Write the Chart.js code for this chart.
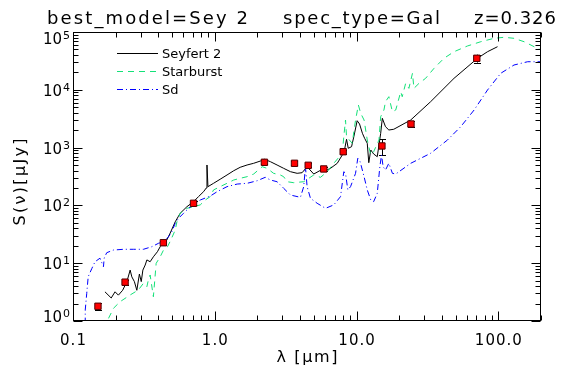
<!DOCTYPE html>
<html><head><meta charset="utf-8">
<script src="https://cdn.jsdelivr.net/npm/chart.js@4.4.1/dist/chart.umd.min.js"></script>
<style>html,body{margin:0;padding:0;background:#fff;overflow:hidden}canvas{display:block}</style>
</head><body>
<canvas id="c" width="569" height="365"></canvas>
<script>
// ---------- data ----------
const titleParts = ['best_model=Sey 2', 'spec_type=Gal', 'z=0.326'];
const seriesLabels = ['Seyfert 2', 'Starburst', 'Sd'];
const xTickValues = [0.1, 1, 10, 100];
const xTickLabels = ['0.1', '1.0', '10.0', '100.0'];
const yTickValues = [1, 10, 100, 1000, 10000, 100000];
const yTickExps = ['0', '1', '2', '3', '4', '5'];
const xTitle = 'λ [μm]';
const yTitle = 'S(ν)[μJy]';

// Seyfert 2 model (black)
const sey2Wave = [0.168,0.186,0.198,0.209,0.224,0.240,0.253,0.260,0.271,0.282,0.294,0.303,0.311,0.323,0.332,0.350,0.369,0.394,0.412,0.435,0.459,0.485,0.526,0.570,0.636,0.708,0.768,0.834,0.871,0.881,0.895,0.98,1.09,1.22,1.36,1.51,1.69,1.88,2.10,2.24,2.47,2.75,3.06,3.42,3.81,4.13,4.48,4.99,5.57,6.04,6.55,7.31,7.93,8.22,8.50,8.74,9.22,9.57,10.1,10.5,11.0,11.4,11.9,12.2,12.6,13.2,14.0,14.8,15.2,16.0,16.9,18.3,24.1,33.3,48.7,71.3,83.9,98.7];
const sey2Flux = [3.2,2.5,3.2,2.8,3.4,4.8,7.6,5.8,4.8,3.4,6.5,4.8,7.6,9.3,11.4,10.6,12.9,15.8,19.3,22.6,25.2,33.3,52,73,95,116,142,173,200,500,211,241,283,336,398,456,500,535,586,628,570,500,438,383,359,368,467,349,405,398,438,535,745,909,1393,973,1037,1544,2918,2560,1767,1448,1187,548,909,775,696,1767,3213,2300,2016,2075,3002,6223,15800,35100,45600,55700];

// Starburst model (green dashed)
const sbWave = [0.178,0.193,0.215,0.253,0.289,0.314,0.332,0.340,0.350,0.369,0.386,0.412,0.435,0.464,0.490,0.526,0.541,0.570,0.636,0.708,0.790,0.857,0.929,0.98,1.09,1.22,1.36,1.51,1.69,1.88,2.16,2.34,2.60,2.90,3.06,3.24,3.60,4.24,4.99,5.57,6.21,6.91,7.93,8.13,8.36,8.50,9.32,9.84,10.3,10.7,11.3,11.9,12.6,13.2,14.4,14.8,15.6,16.0,16.9,17.9,18.9,20.5,21.0,22.2,23.4,24.8,25.4,27.6,30.7,35.2,41.4,48.7,60.6,75.2,93.4,110,129,152,179,200];
const sbFlux = [1.11,1.66,2.16,2.82,3.44,4.49,3.92,5.12,6.25,2.63,9.95,12.9,16.9,19.3,25.2,37.5,52.2,73,89,95,102,124,142,185,211,241,275,294,314,349,467,438,359,336,314,257,247,257,336,306,383,535,797,1544,3002,1544,1187,3002,5458,3920,3002,1354,745,849,1354,3425,4473,6223,7600,4180,4473,9270,7600,12950,10600,19300,10600,12950,15800,23550,35100,45600,57300,67900,77800,81000,77800,67900,55700,48800];

// Sd model (blue dash-dot)
const sdWave = [0.122,0.122,0.125,0.128,0.136,0.143,0.155,0.164,0.166,0.173,0.193,0.227,0.267,0.314,0.360,0.401,0.435,0.472,0.498,0.526,0.555,0.602,0.653,0.708,0.790,0.929,1.04,1.22,1.44,1.69,1.99,2.27,2.47,2.75,3.06,3.42,4.02,4.24,4.36,4.48,4.73,5.27,6.04,6.91,7.71,8.13,8.36,8.68,9.07,9.84,10.2,10.6,11.3,11.9,12.6,13.2,14.0,14.6,15.0,15.4,16.0,16.9,17.9,18.9,24.1,33.3,43.8,54.3,67.5,83.9,104,129,161,200];
const sdFlux = [0.9,1.55,3.01,5.84,8.16,10.6,12.2,8.7,12.3,15.2,16.9,17.4,17.4,17.4,19.3,22.1,23.5,28.7,35.1,49,59.8,73,89,102,124,145,173,211,234,241,267,306,275,257,198,151,138,211,467,211,133,109,89,102,142,383,359,185,211,359,653,570,314,185,124,116,162,467,745,467,409,535,359,349,535,797,1354,2300,4473,9920,19300,26850,30600,30600];

// Observed photometry (red points with error bars)
const obsWave = [0.150, 0.233, 0.434, 0.708, 2.24, 3.65, 4.56, 5.87, 8.05, 15.1, 24.2, 70.5];
const obsFlux = [1.8, 4.7, 22.6, 108.7, 557, 535, 494, 427, 849, 1067, 2560, 35100];
const obsErr  = [0.22, 0.45, 2.0, 9, 45, 40, 40, 35, 70, 330, 330, 5500];

// ---------- styling ----------
const FONT = "'DejaVu Sans', 'Liberation Sans', sans-serif";
const COL_BLACK = '#000000';
const COL_GREEN = 'rgb(20,225,120)';
const COL_BLUE = 'rgb(0,0,255)';
const DASH_GREEN = [6, 5];
const DASH_BLUE = [6, 3, 1, 3];

const toXY = (xs, ys) => xs.map((x, i) => ({x: x, y: ys[i]}));

function fitText(ctx, text, x, y, targetW, align) {
  ctx.letterSpacing = '0px';
  const w0 = ctx.measureText(text).width;
  const n = Math.max(1, text.length - 1);
  const ls = (targetW - w0) / n;
  ctx.letterSpacing = ls.toFixed(2) + 'px';
  const w = ctx.measureText(text).width - ls;
  let sx = x;
  if (align === 'center') sx = x - w / 2;
  else if (align === 'right') sx = x - w;
  ctx.textAlign = 'left';
  ctx.fillText(text, sx, y);
  ctx.letterSpacing = '0px';
}

const idlPlugin = {
  id: 'idl',
  beforeDraw(chart) {
    const ctx = chart.ctx;
    ctx.save();
    ctx.fillStyle = '#fff';
    ctx.fillRect(0, 0, chart.width, chart.height);
    ctx.restore();
  },
  beforeDatasetsDraw(chart) {
    const ctx = chart.ctx, xs = chart.scales.x, ys = chart.scales.y;
    ctx.save();
    ctx.strokeStyle = '#000';
    ctx.lineWidth = 1;
    obsWave.forEach((w, i) => {
      const px = Math.round(xs.getPixelForValue(w)) + 0.5;
      const yTop = ys.getPixelForValue(obsFlux[i] + obsErr[i]);
      const yBot = ys.getPixelForValue(Math.max(obsFlux[i] - obsErr[i], 1e-3));
      ctx.beginPath();
      ctx.moveTo(px, yTop); ctx.lineTo(px, yBot);
      ctx.moveTo(px - 3.5, Math.round(yTop) + 0.5); ctx.lineTo(px + 3.5, Math.round(yTop) + 0.5);
      ctx.moveTo(px - 3.5, Math.round(yBot) + 0.5); ctx.lineTo(px + 3.5, Math.round(yBot) + 0.5);
      ctx.stroke();
    });
    ctx.restore();
  },
  afterDraw(chart) {
    const ctx = chart.ctx, a = chart.chartArea, xs = chart.scales.x, ys = chart.scales.y;
    ctx.save();
    ctx.strokeStyle = '#000';
    ctx.lineWidth = 1;
    const L = Math.round(a.left) + 0.5, R = Math.round(a.right) - 0.5,
          T = Math.round(a.top) + 0.5, B = Math.round(a.bottom) - 0.5;
    ctx.strokeRect(L, T, R - L, B - T);
    const xMinor = [], yMinor = [];
    xTickValues.forEach(d => { for (let m = 2; m <= 9; m++) { const v = m * d; if (v <= xs.max) xMinor.push(v); } });
    yTickValues.forEach(d => { for (let m = 2; m <= 9; m++) { const v = m * d; if (v < ys.max) yMinor.push(v); } });
    ctx.beginPath();
    const tick = (v, len, axis) => {
      if (axis === 'x') {
        const p = Math.round(xs.getPixelForValue(v)) + 0.5;
        ctx.moveTo(p, B); ctx.lineTo(p, B - len);
        ctx.moveTo(p, T); ctx.lineTo(p, T + len);
      } else {
        const p = Math.round(ys.getPixelForValue(v)) + 0.5;
        ctx.moveTo(L, p); ctx.lineTo(L + len, p);
        ctx.moveTo(R, p); ctx.lineTo(R - len, p);
      }
    };
    xTickValues.forEach(v => tick(v, 9, 'x'));
    xMinor.forEach(v => tick(v, 5, 'x'));
    yTickValues.forEach(v => tick(v, 9, 'y'));
    yMinor.forEach(v => tick(v, 5, 'y'));
    ctx.stroke();

    ctx.fillStyle = '#000';
    ctx.textBaseline = 'alphabetic';
    ctx.font = '15px ' + FONT;
    xTickValues.forEach((v, i) => {
      const p = xs.getPixelForValue(v);
      const w0 = ctx.measureText(xTickLabels[i]).width;
      fitText(ctx, xTickLabels[i], p, 345, w0 + (xTickLabels[i].length - 1) * 1.0, 'center');
    });
    yTickValues.forEach((v, i) => {
      const p = ys.getPixelForValue(v);
      let base = p + 6;
      base = Math.max(base, a.top + 12);
      base = Math.min(base, a.bottom + 1);
      ctx.font = '15px ' + FONT;
      ctx.textAlign = 'right';
      ctx.fillText('10', 62, base);
      ctx.font = '11px ' + FONT;
      ctx.textAlign = 'left';
      ctx.fillText(yTickExps[i], 63, base - 5);
    });
    ctx.font = '16px ' + FONT;
    fitText(ctx, xTitle, (a.left + a.right) / 2, 362, 61, 'center');
    ctx.save();
    ctx.translate(25, 182);
    ctx.rotate(-Math.PI / 2);
    fitText(ctx, yTitle, 0, 0, 87, 'center');
    ctx.restore();
    ctx.font = '18px ' + FONT;
    const tpos = [[47, 248], [283, 440], [474, 556]];
    titleParts.forEach((t, i) => fitText(ctx, t, tpos[i][0], 24, tpos[i][1] - tpos[i][0], 'left'));
    const legRows = [53.5, 71.5, 89.5];
    const legCols = [COL_BLACK, COL_GREEN, COL_BLUE];
    const legDash = [[], DASH_GREEN, DASH_BLUE];
    ctx.font = '13px ' + FONT;
    seriesLabels.forEach((lab, i) => {
      ctx.save();
      ctx.strokeStyle = legCols[i];
      ctx.setLineDash(legDash[i]);
      ctx.lineWidth = 1;
      ctx.beginPath();
      ctx.moveTo(117, legRows[i]); ctx.lineTo(158, legRows[i]);
      ctx.stroke();
      ctx.restore();
      ctx.fillStyle = '#000';
      fitText(ctx, lab, 162, legRows[i] + 4.5, ctx.measureText(lab).width, 'left');
    });
    ctx.restore();
  }
};

new Chart(document.getElementById('c'), {
  type: 'scatter',
  data: {
    datasets: [
      { label: seriesLabels[0], data: toXY(sey2Wave, sey2Flux), showLine: true, pointRadius: 0,
        borderColor: COL_BLACK, borderWidth: 1, order: 3 },
      { label: seriesLabels[1], data: toXY(sbWave, sbFlux), showLine: true, pointRadius: 0,
        borderColor: COL_GREEN, borderWidth: 1, borderDash: DASH_GREEN, order: 2 },
      { label: seriesLabels[2], data: toXY(sdWave, sdFlux), showLine: true, pointRadius: 0,
        borderColor: COL_BLUE, borderWidth: 1, borderDash: DASH_BLUE, order: 1 },
      { label: 'data', data: toXY(obsWave, obsFlux), showLine: false, pointStyle: 'rect', pointRadius: 4.5,
        backgroundColor: '#ff0000', borderColor: '#500000', borderWidth: 1, order: 0 }
    ]
  },
  options: {
    responsive: false, animation: false, devicePixelRatio: 1,
    layout: { padding: { left: 0, right: 28, top: 32, bottom: 0 } },
    plugins: { legend: { display: false }, tooltip: { enabled: false }, title: { display: false } },
    scales: {
      x: { type: 'logarithmic', min: 0.1, max: 200, grid: { display: false }, border: { display: false },
           ticks: { display: false }, afterFit: s => { s.height = 44; } },
      y: { type: 'logarithmic', min: 1, max: 100000, grid: { display: false }, border: { display: false },
           ticks: { display: false }, afterFit: s => { s.width = 73; } }
    }
  },
  plugins: [idlPlugin]
});
</script>
</body></html>
